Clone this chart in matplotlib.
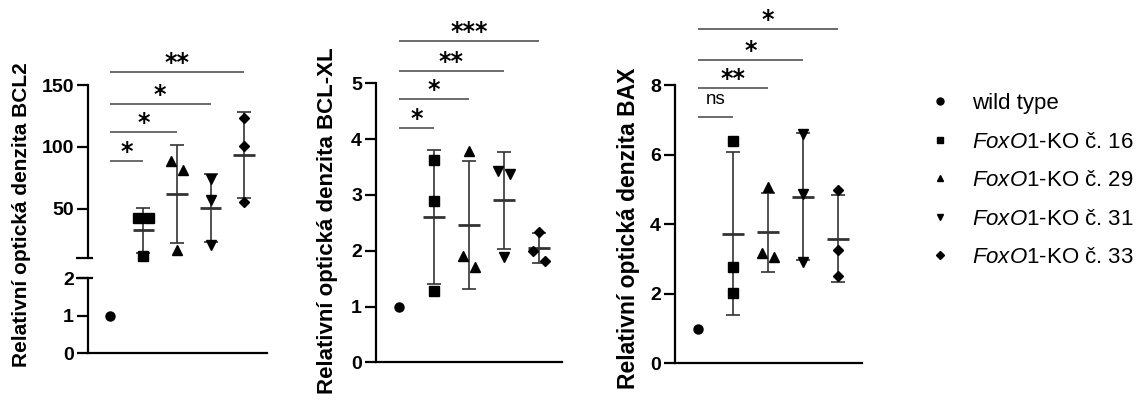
import numpy as np
import matplotlib
matplotlib.use('Agg')
import matplotlib.pyplot as plt
from matplotlib.lines import Line2D

plt.rcParams['font.family'] = ['Liberation Sans', 'DejaVu Sans']
plt.rcParams['mathtext.fontset'] = 'custom'
plt.rcParams['mathtext.it'] = 'Liberation Sans:italic'
plt.rcParams['mathtext.rm'] = 'Liberation Sans'

# ---------------- data ----------------
legend_labels = ['wild type',
                 r'$\mathit{FoxO1}$-KO č. 16',
                 r'$\mathit{FoxO1}$-KO č. 29',
                 r'$\mathit{FoxO1}$-KO č. 31',
                 r'$\mathit{FoxO1}$-KO č. 33']

wild_type = [1.0]

bcl2_ko16 = [42.8, 42.8, 11.9]
bcl2_ko29 = [88.3, 81.6, 16.8]
bcl2_ko31 = [74.4, 57.5, 20.8]
bcl2_ko33 = [123.7, 100.9, 55.4]

bclxl_ko16 = [3.63, 2.89, 1.28]
bclxl_ko29 = [3.78, 1.90, 1.70]
bclxl_ko31 = [3.43, 3.38, 1.89]
bclxl_ko33 = [2.34, 1.99, 1.82]

bax_ko16 = [6.40, 2.78, 2.01]
bax_ko29 = [5.08, 3.16, 3.07]
bax_ko31 = [6.58, 4.86, 2.92]
bax_ko33 = [4.98, 3.26, 2.52]

bcl2_sig = ['*', '*', '*', '**']
bcl2_sig_y = [88.3, 111.7, 134.5, 160.7]
bclxl_sig = ['*', '*', '**', '***']
bclxl_sig_y = [4.19, 4.72, 5.22, 5.76]
bax_sig = ['ns', '**', '*', '*']
bax_sig_y = [7.07, 7.92, 8.72, 9.61]

ylabels = ['Relativní optická denzita BCL2',
           'Relativní optická denzita BCL-XL',
           'Relativní optická denzita BAX']

# ---------------- style ----------------
markers = ['o', 's', '^', 'v', 'D']
msizes = [6.5, 7, 7.5, 7.5, 5]
ERR_C = '#333333'
SIG_C = '#444444'
SPINE_W = 1.6
XLIM = (-0.65, 4.67)

W, H = 1142, 401
fig = plt.figure(figsize=(W / 100, H / 100), dpi=100)


def px_rect(left, right, top, bottom):
    return [left / W, 1 - bottom / H, (right - left) / W, (bottom - top) / H]


def style_axis(ax, yticks, ylim, hide_bottom=False):
    ax.set_xlim(*XLIM)
    ax.set_ylim(*ylim)
    for s in ['top', 'right']:
        ax.spines[s].set_visible(False)
    if hide_bottom:
        ax.spines['bottom'].set_visible(False)
    for s in ['left', 'bottom']:
        ax.spines[s].set_linewidth(SPINE_W)
    ax.set_xticks([])
    ax.set_yticks(yticks)
    ax.set_yticklabels([str(t) for t in yticks], fontweight='bold')
    ax.tick_params(axis='y', direction='out', length=8, width=SPINE_W,
                   labelsize=14, pad=2)
    ax.patch.set_alpha(0)


def jitter_offsets(ax, vals):
    vals = np.asarray(vals, float)
    order = np.argsort(-vals)
    pix = ax.transData.transform(np.column_stack([np.zeros(len(vals)), vals]))[:, 1]
    offs = np.zeros(len(vals))
    clusters = [[order[0]]]
    for a, b in zip(order[:-1], order[1:]):
        if abs(pix[a] - pix[b]) < 13:
            clusters[-1].append(b)
        else:
            clusters.append([b])
    for c in clusters:
        if len(c) == 2:
            offs[c[0]], offs[c[1]] = -0.17, 0.17
        elif len(c) == 3:
            offs[c[0]], offs[c[1]], offs[c[2]] = -0.25, 0.0, 0.25
    return offs


def draw_group(ax, x, vals, gi, summary=True):
    vals = np.asarray(vals, float)
    offs = jitter_offsets(ax, vals) if len(vals) > 1 else np.zeros(len(vals))
    ax.plot(x + offs, vals, ls='none', marker=markers[gi], ms=msizes[gi],
            color='black', zorder=4, clip_on=False)
    if summary and len(vals) > 1:
        m = vals.mean()
        sd = vals.std(ddof=1)
        ax.errorbar([x], [m], yerr=[sd], fmt='none', ecolor=ERR_C,
                    elinewidth=1.2, capsize=5, capthick=1.2, zorder=3)
        ax.hlines(m, x - 0.32, x + 0.32, color=ERR_C, lw=2.0, zorder=3)


def draw_sig(ax, labels, ys):
    for k, (lab, y) in enumerate(zip(labels, ys), start=1):
        ax.plot([0, k], [y, y], color=SIG_C, lw=1.1, clip_on=False,
                solid_capstyle='butt')
        if lab == 'ns':
            ax.annotate(lab, xy=(k / 2, y), xytext=(0, 9.5), textcoords='offset points',
                        ha='center', va='baseline', fontsize=13.5,
                        annotation_clip=False)
        else:
            ax.annotate(lab, xy=(k / 2, y), xytext=(0, 1.5), textcoords='offset points',
                        ha='center', va='baseline', fontsize=17, fontweight='bold',
                        family='DejaVu Sans', annotation_clip=False)


# ---------------- panel 1 (broken axis) ----------------
ax1t = fig.add_axes(px_rect(88, 266.7, 85, 258.3))
ax1b = fig.add_axes(px_rect(88, 266.7, 278.3, 353.3))
style_axis(ax1t, [50, 100, 150], (10, 150), hide_bottom=True)
style_axis(ax1b, [0, 1, 2], (0, 2))
ax1t.plot([-0.067, 0.028], [0, 0], transform=ax1t.transAxes, color='black',
          lw=SPINE_W, clip_on=False, solid_capstyle='butt')
ax1b.plot([-0.067, 0.028], [1, 1], transform=ax1b.transAxes, color='black',
          lw=SPINE_W, clip_on=False, solid_capstyle='butt')
draw_group(ax1b, 0, wild_type, 0)
for gi, vals in enumerate([bcl2_ko16, bcl2_ko29, bcl2_ko31, bcl2_ko33], start=1):
    draw_group(ax1t, gi, vals, gi)
draw_sig(ax1t, bcl2_sig, bcl2_sig_y)
fig.text(21.7 / W, 1 - 215 / H, ylabels[0], rotation=90, ha='center',
         va='center', fontsize=15, fontweight='bold')

# ---------------- panel 2 ----------------
ax2 = fig.add_axes(px_rect(376, 562.3, 83.3, 362.3))
style_axis(ax2, [0, 1, 2, 3, 4, 5], (0, 5))
draw_group(ax2, 0, wild_type, 0)
for gi, vals in enumerate([bclxl_ko16, bclxl_ko29, bclxl_ko31, bclxl_ko33], start=1):
    draw_group(ax2, gi, vals, gi)
draw_sig(ax2, bclxl_sig, bclxl_sig_y)
fig.text(328 / W, 1 - 221 / H, ylabels[1], rotation=90, ha='center',
         va='center', fontsize=16, fontweight='bold')

# ---------------- panel 3 ----------------
ax3 = fig.add_axes(px_rect(675, 861.7, 85, 363.3))
style_axis(ax3, [0, 2, 4, 6, 8], (0, 8))
draw_group(ax3, 0, wild_type, 0)
for gi, vals in enumerate([bax_ko16, bax_ko29, bax_ko31, bax_ko33], start=1):
    draw_group(ax3, gi, vals, gi)
draw_sig(ax3, bax_sig, bax_sig_y)
fig.text(628 / W, 1 - 228.3 / H, ylabels[2], rotation=90, ha='center',
         va='center', fontsize=16.5, fontweight='bold')

# ---------------- legend ----------------
handles = [Line2D([], [], ls='none', marker=m, color='black',
                  ms=(5 if m != 'D' else 4)) for m in markers]
fig.legend(handles, legend_labels, loc='upper left',
           bbox_to_anchor=(929 / W, 1 - 93 / H), frameon=False,
           fontsize=16, handlelength=1.0, handletextpad=0.95,
           labelspacing=0.79, borderpad=0, borderaxespad=0)

fig.savefig('out.png', dpi=100)
